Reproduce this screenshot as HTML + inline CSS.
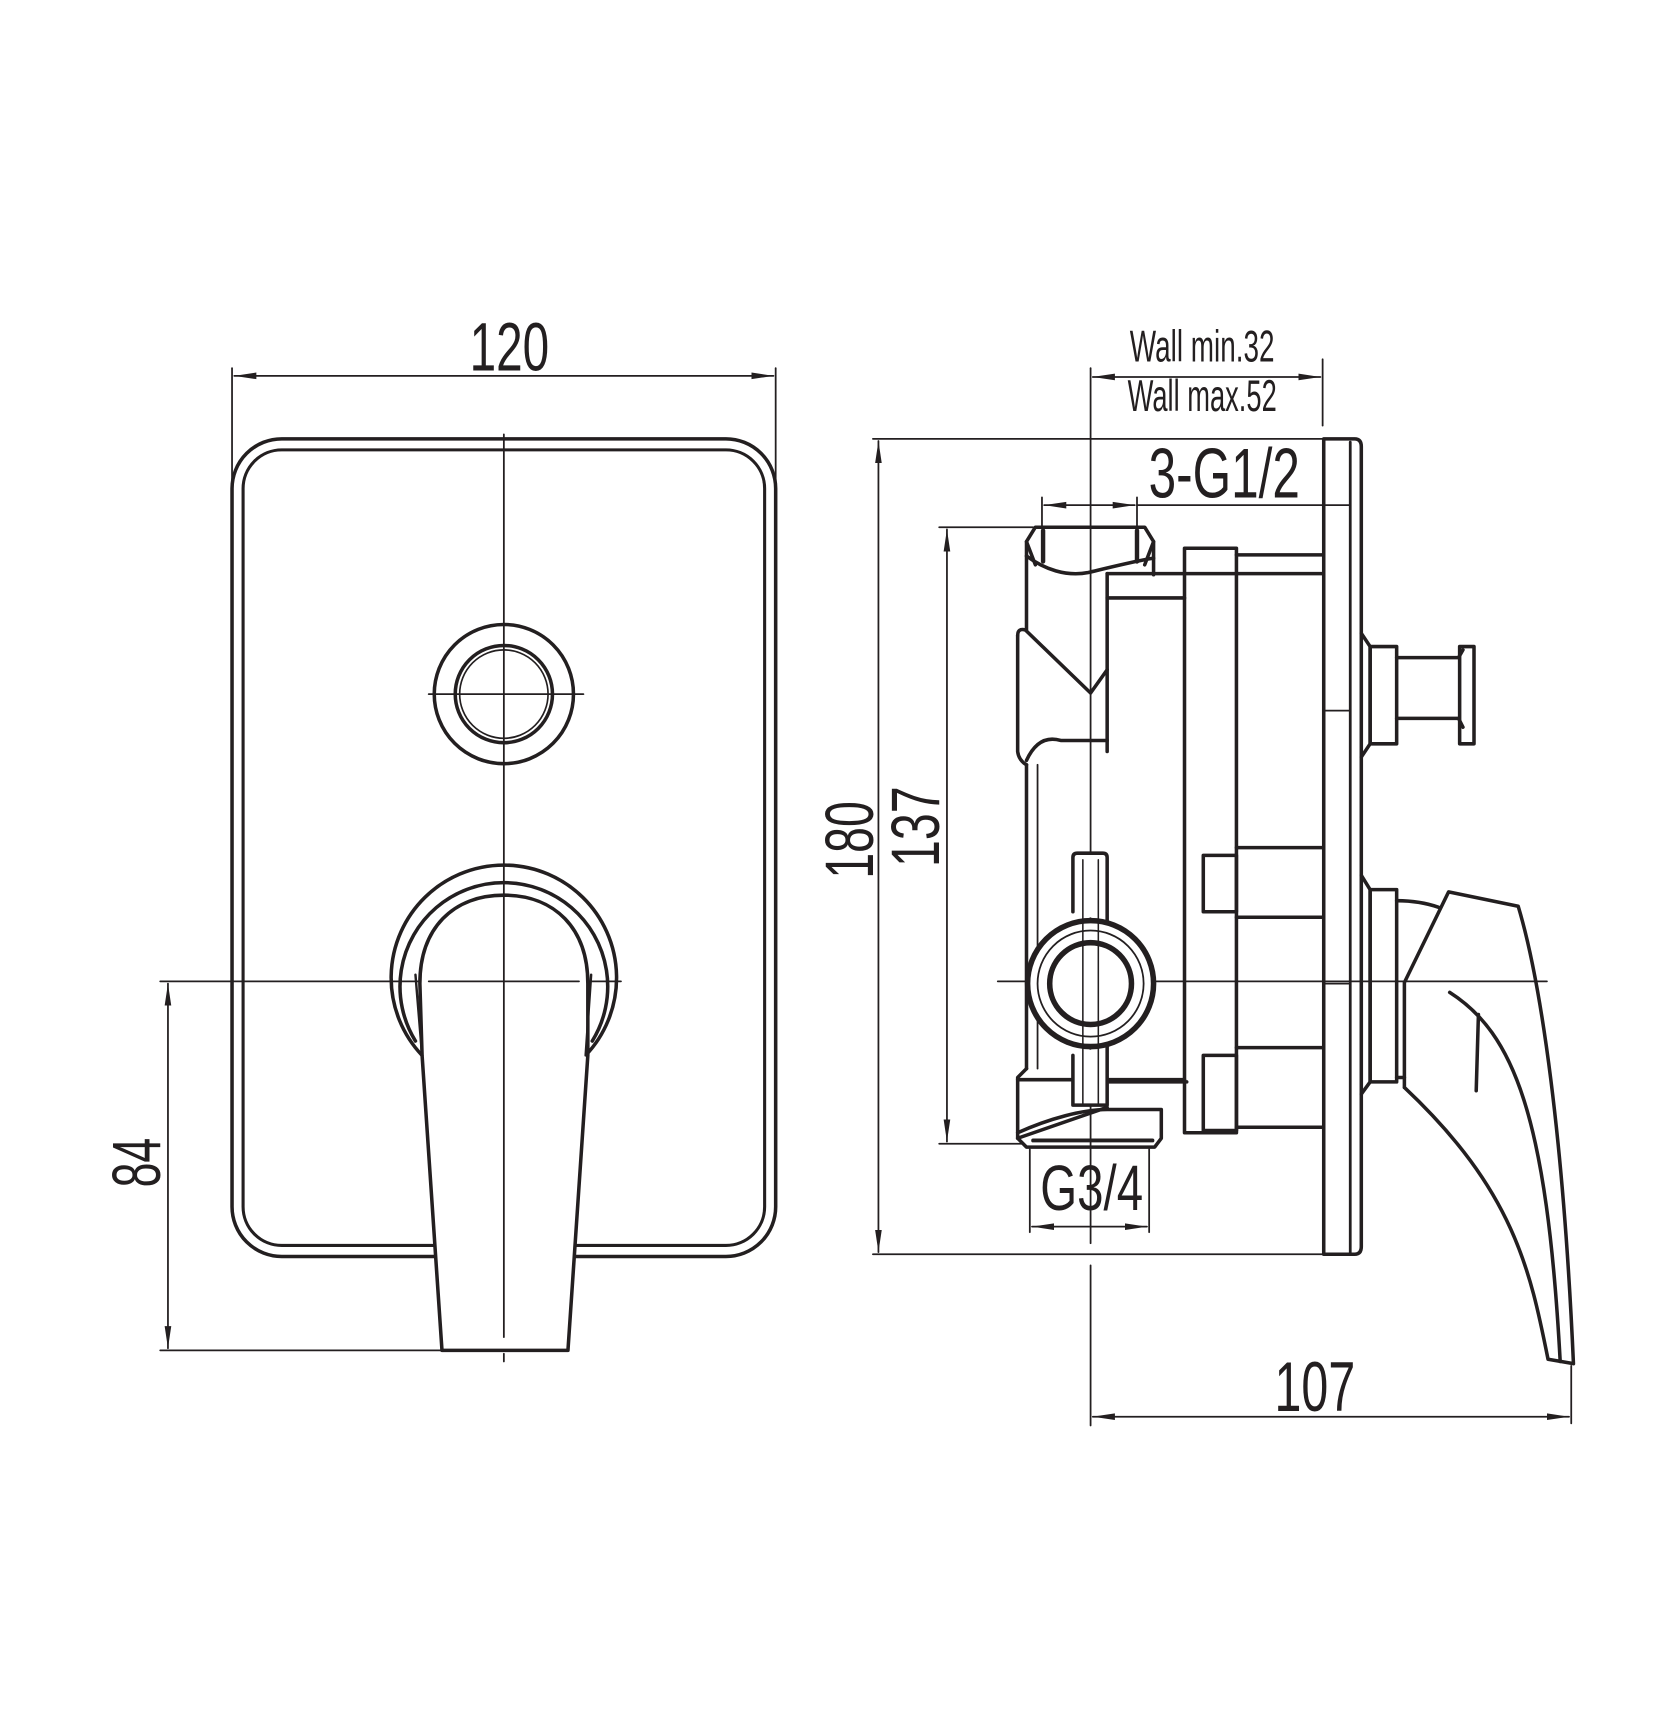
<!DOCTYPE html>
<html><head><meta charset="utf-8"><style>
html,body{margin:0;padding:0;background:#fff;}
svg{display:block;}
text{font-family:"Liberation Sans",sans-serif;fill:#231f20;}
</style></head><body>
<svg width="1674" height="1734" viewBox="0 0 1515 1569" xmlns="http://www.w3.org/2000/svg">
<defs>
<marker id="a" viewBox="0 0 20 8" refX="20" refY="4" markerWidth="20" markerHeight="8" markerUnits="userSpaceOnUse" orient="auto-start-reverse"><path d="M0,1 L20,4 L0,7 Z" fill="#231f20"/></marker>
</defs>
<g fill="none" stroke="#231f20" stroke-linecap="round" stroke-linejoin="round">
<g stroke-width="1.6">
<line x1="210" y1="333" x2="210" y2="440"/>
<line x1="702" y1="333" x2="702" y2="440"/>
<line x1="212" y1="340" x2="700" y2="340" marker-start="url(#a)" marker-end="url(#a)"/>
<line x1="456" y1="393" x2="456" y2="1140"/>
<line x1="456" y1="1225" x2="456" y2="1232"/>
<line x1="388" y1="628" x2="528" y2="628"/>
<line x1="145" y1="888" x2="562" y2="888"/>
<line x1="145" y1="1222" x2="400" y2="1222"/>
<line x1="152" y1="890" x2="152" y2="1220" marker-start="url(#a)" marker-end="url(#a)"/>
</g>
<g stroke-width="3.2">
<rect x="210" y="397" width="492" height="740" rx="45"/>
<rect x="220" y="407" width="472" height="720" rx="35" stroke-width="2.8"/>
<circle cx="456" cy="628" r="63"/>
<circle cx="456" cy="628" r="44"/>
<circle cx="456" cy="628" r="40" stroke-width="1.5"/>
</g>
<g stroke-width="3.2">
<path d="M382,955 A102,102 0 1 1 530,955"/>
<path d="M376,942 A94,94 0 1 1 536,942"/>
<path d="M382,955 L380,890 C380,840 410,810 456,810 C502,810 532,840 532,890 L532,955 L514,1222 L400,1222 Z" fill="#fff"/>
<path d="M382,955 L376,882 M530,955 L535,882" stroke-width="2.2"/>
</g>
<line x1="456" y1="810" x2="456" y2="1210" stroke-width="1.6"/>
<line x1="388" y1="888" x2="524" y2="888" stroke-width="1.6"/>

<g stroke-width="1.6">
<line x1="790" y1="397" x2="1200" y2="397"/>
<line x1="790" y1="1135" x2="1200" y2="1135"/>
<line x1="795" y1="399" x2="795" y2="1133" marker-start="url(#a)" marker-end="url(#a)"/>
<line x1="850" y1="477" x2="935" y2="477"/>
<line x1="850" y1="1035" x2="925" y2="1035"/>
<line x1="857" y1="479" x2="857" y2="1033" marker-start="url(#a)" marker-end="url(#a)"/>
<line x1="987" y1="333" x2="987" y2="1125"/>
<line x1="987" y1="1145" x2="987" y2="1290"/>
<line x1="1197" y1="325" x2="1197" y2="385"/>
<line x1="989" y1="341" x2="1195" y2="341" marker-start="url(#a)" marker-end="url(#a)"/>
<line x1="943" y1="450" x2="943" y2="476"/>
<line x1="1029" y1="450" x2="1029" y2="476"/>
<line x1="945" y1="457" x2="1027" y2="457" marker-start="url(#a)" marker-end="url(#a)"/>
<line x1="1029" y1="457" x2="1222" y2="457"/>
<line x1="932" y1="1040" x2="932" y2="1115"/>
<line x1="1040" y1="1040" x2="1040" y2="1115"/>
<line x1="934" y1="1110" x2="1038" y2="1110" marker-start="url(#a)" marker-end="url(#a)"/>
<line x1="1422" y1="1236" x2="1422" y2="1288"/>
<line x1="989" y1="1282" x2="1420" y2="1282" marker-start="url(#a)" marker-end="url(#a)"/>
<line x1="903" y1="888" x2="1400" y2="888"/>
</g>
<g stroke-width="3.2">
<path d="M937,511 L929,490 L937,477 L1036,477 L1044,490 L1036,511"/>
<path d="M929,490 L929,570"/>
<path d="M944,480 L944,508 M1029,480 L1029,508" stroke-width="4"/>
<path d="M929,503 C945,515 965,522 985,518 C1010,512 1030,507 1044,505"/>
<path d="M1044,490 L1044,520"/>
<path d="M1002,519 L1002,680"/>
<path d="M1002,519 L1198,519 M1002,541 L1072,541 M1119,502 L1198,502"/>
<rect x="1072" y="496" width="47" height="529"/>
<path d="M921,575 Q921,568 928,570 L987,627 L1002,606"/>
<path d="M921,575 L921,680 Q922,688 929,692"/>
<path d="M929,688 Q940,664 960,670 L1002,670"/>
<path d="M929,692 L929,967"/>
<path d="M939,692 L939,967" stroke-width="1.6"/>
<path d="M929,967 L921,975 L921,1030 L1002,1002"/>
<path d="M921,977 L1072,977"/>
<path d="M921,1030 L929,1038 L1045,1038 L1051,1030 L1051,1004 L1002,1004 C980,1004 950,1012 921,1025"/>
<path d="M935,1032 L1043,1032" stroke-width="3.5"/>
<path d="M1002,979 L1074,979"/>
<path d="M971,825 L971,776 Q971,772 975,772 L998,772 Q1002,772 1002,776 L1002,835" fill="#fff"/>
<path d="M971,955 L971,1000 L1002,1000 L1002,945" fill="#fff"/>
<circle cx="987" cy="890" r="57" stroke-width="5" fill="#fff"/>
<circle cx="987" cy="890" r="48" stroke-width="1.6"/>
<circle cx="987" cy="890" r="37" stroke-width="5"/>
<path d="M980,778 L980,1000 M994,778 L994,1000" stroke-width="1.4"/>
<path d="M1119,767 L1198,767 M1119,830 L1198,830 M1119,948 L1198,948 M1119,1020 L1198,1020"/>
<rect x="1089" y="774" width="30" height="51"/>
<rect x="1089" y="955" width="30" height="68"/>
<path d="M1198,397 L1226,397 Q1232,397 1232,404 L1232,1128 Q1232,1135 1226,1135 L1198,1135 Z"/>
<path d="M1222,400 L1222,1133" stroke-width="2.5"/>
<path d="M1198,643 L1222,643 M1198,890 L1222,890" stroke-width="1.6"/>
<path d="M1232,573 L1240,585 L1240,673 L1232,685"/>
<rect x="1240" y="585" width="24" height="88"/>
<path d="M1264,595 L1320,595 L1324,588 M1264,650 L1320,650 L1324,658"/>
<rect x="1321" y="585" width="13" height="88"/>
<path d="M1232,792 L1240,805 L1240,979 L1232,990"/>
<rect x="1240" y="805" width="24" height="174"/>
<path d="M1264,815 Q1285,815 1302,821"/>
<path d="M1264,975 L1271,975"/>
<path d="M1271,984 L1271,889 L1311,807 L1374,820 C1395,890 1415,1030 1424,1234 L1401,1230 C1385,1150 1370,1077 1271,984"/>
<path d="M1312,898 C1370,935 1400,1010 1412,1232"/>
<path d="M1338,918 L1336,987"/>
</g>
</g>
<text x="461" y="335" font-size="62" textLength="72" lengthAdjust="spacingAndGlyphs" text-anchor="middle">120</text>
<text transform="translate(145,1052) rotate(-90)" font-size="62" textLength="45" lengthAdjust="spacingAndGlyphs" text-anchor="middle">84</text>
<text transform="translate(790,760) rotate(-90)" font-size="62" textLength="70" lengthAdjust="spacingAndGlyphs" text-anchor="middle">180</text>
<text transform="translate(850,748) rotate(-90)" font-size="62" textLength="73" lengthAdjust="spacingAndGlyphs" text-anchor="middle">137</text>
<text x="1088" y="327" font-size="40" textLength="131" lengthAdjust="spacingAndGlyphs" text-anchor="middle">Wall min.32</text>
<text x="1088" y="372" font-size="40" textLength="135" lengthAdjust="spacingAndGlyphs" text-anchor="middle">Wall max.52</text>
<text x="1108" y="450" font-size="64" textLength="137" lengthAdjust="spacingAndGlyphs" text-anchor="middle">3-G1/2</text>
<text x="988" y="1095" font-size="58" textLength="93" lengthAdjust="spacingAndGlyphs" text-anchor="middle">G3/4</text>
<text x="1190" y="1277" font-size="64" textLength="73" lengthAdjust="spacingAndGlyphs" text-anchor="middle">107</text>
</svg>
</body></html>
